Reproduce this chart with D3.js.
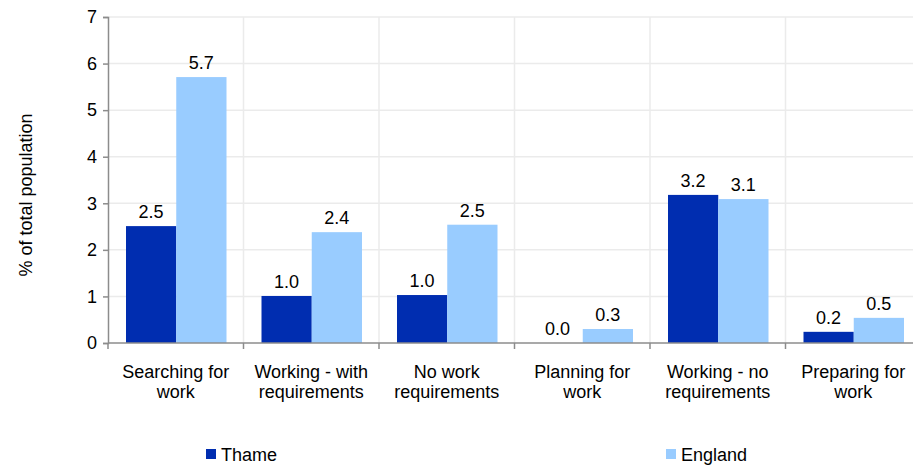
<!DOCTYPE html>
<html>
<head>
<meta charset="utf-8">
<script src="https://cdn.jsdelivr.net/npm/d3@7"></script>
<style>
  body { margin: 0; background: #fff; }
  text { font-family: "Liberation Sans", Arial, sans-serif; fill: #000; }
</style>
</head>
<body>
<div id="chart"></div>
<script>
// chart data
var categories = [
  ["Searching for", "work"],
  ["Working - with", "requirements"],
  ["No work", "requirements"],
  ["Planning for", "work"],
  ["Working - no", "requirements"],
  ["Preparing for", "work"]
];
var seriesNames = ["Thame", "England"];
var thameValues = [2.51, 1.01, 1.03, 0.0, 3.18, 0.24];
var englandValues = [5.71, 2.38, 2.54, 0.30, 3.09, 0.54];
var yTicks = [0, 1, 2, 3, 4, 5, 6, 7];
var colors = ["#002db0", "#99ccff"];

var svgWidth = 913;
var svgHeight = 465;
var margin = { top: 17, right: -8, bottom: 122, left: 108 };
var chWidth = svgWidth - margin.left - margin.right;
var chHeight = svgHeight - margin.top - margin.bottom;
var fontSize = "18px";

var rows = categories.map(function(c, i) {
  return { cat: c, key: i, values: [thameValues[i], englandValues[i]] };
});

var svg = d3.select("#chart")
  .append("svg")
  .attr("width", svgWidth)
  .attr("height", svgHeight);

var chGroup = svg.append("g")
  .attr("transform", `translate(${margin.left}, ${margin.top})`);

var xScale = d3.scaleBand()
  .domain(rows.map(d => d.key))
  .range([0, chWidth]);

var xInner = d3.scaleBand()
  .domain([0, 1])
  .range([18, xScale.bandwidth() - 17]);

var yScale = d3.scaleLinear()
  .domain([0, 7])
  .range([chHeight, 0]);

// horizontal gridlines
chGroup.append("g")
  .selectAll("line")
  .data(yTicks.filter(t => t > 0))
  .enter()
  .append("line")
  .attr("x1", 0)
  .attr("x2", chWidth)
  .attr("y1", d => yScale(d))
  .attr("y2", d => yScale(d))
  .attr("stroke", "#ebebeb")
  .attr("stroke-width", 1.5);

// vertical gridlines at category boundaries
chGroup.append("g")
  .selectAll("line")
  .data(rows.slice(1))
  .enter()
  .append("line")
  .attr("x1", d => xScale(d.key))
  .attr("x2", d => xScale(d.key))
  .attr("y1", 0)
  .attr("y2", chHeight)
  .attr("stroke", "#ebebeb")
  .attr("stroke-width", 1.5);

// bars
var groups = chGroup.selectAll(".cat")
  .data(rows)
  .enter()
  .append("g")
  .attr("transform", d => `translate(${xScale(d.key)}, 0)`);

groups.selectAll("rect")
  .data(d => d.values.map((v, j) => ({ v: v, j: j })))
  .enter()
  .append("rect")
  .attr("x", d => xInner(d.j))
  .attr("width", xInner.bandwidth())
  .attr("y", d => yScale(d.v))
  .attr("height", d => chHeight - yScale(d.v))
  .style("fill", d => colors[d.j]);

groups.selectAll(".val")
  .data(d => d.values.map((v, j) => ({ v: v, j: j })))
  .enter()
  .append("text")
  .attr("x", d => xInner(d.j) + xInner.bandwidth() / 2)
  .attr("y", d => yScale(d.v) - 8)
  .attr("text-anchor", "middle")
  .attr("font-size", fontSize)
  .text(d => d.v.toFixed(1));

// y axis
var yAxis = d3.axisLeft(yScale).tickValues(yTicks).tickFormat(d3.format("d")).tickSize(5).tickPadding(6);
var yG = chGroup.append("g").call(yAxis);
yG.attr("font-size", null).attr("font-family", null);
yG.selectAll("text").attr("font-size", fontSize).attr("fill", "#000");
yG.selectAll("line, path").attr("stroke", "#8c8c8c").attr("stroke-width", 1.5);

// x axis
var xG = chGroup.append("g")
  .attr("transform", `translate(0, ${chHeight})`);
xG.append("line")
  .attr("x1", 0).attr("x2", chWidth)
  .attr("stroke", "#8c8c8c").attr("stroke-width", 1.5);
xG.selectAll(".tick")
  .data(rows)
  .enter()
  .append("line")
  .attr("x1", d => xScale(d.key))
  .attr("x2", d => xScale(d.key))
  .attr("y1", 0).attr("y2", 6)
  .attr("stroke", "#8c8c8c").attr("stroke-width", 1.5);

var catLabels = xG.selectAll(".catlabel")
  .data(rows)
  .enter()
  .append("text")
  .attr("text-anchor", "middle")
  .attr("font-size", fontSize)
  .attr("x", d => xScale(d.key) + xScale.bandwidth() / 2);
catLabels.append("tspan")
  .attr("x", d => xScale(d.key) + xScale.bandwidth() / 2)
  .attr("y", 35)
  .text(d => d.cat[0]);
catLabels.append("tspan")
  .attr("x", d => xScale(d.key) + xScale.bandwidth() / 2)
  .attr("y", 55)
  .text(d => d.cat[1]);

// y axis title
svg.append("text")
  .attr("transform", "translate(32, 195) rotate(-90)")
  .attr("text-anchor", "middle")
  .attr("font-size", fontSize)
  .text("% of total population");

// legend
var legendX = [206, 666];
var legend = svg.selectAll(".legend")
  .data(seriesNames)
  .enter()
  .append("g")
  .attr("transform", (d, i) => `translate(${legendX[i]}, 449)`);
legend.append("rect")
  .attr("width", 10).attr("height", 10)
  .style("fill", (d, i) => colors[i]);
legend.append("text")
  .attr("x", 15).attr("y", 12)
  .attr("font-size", fontSize)
  .text(d => d);
</script>
</body>
</html>
